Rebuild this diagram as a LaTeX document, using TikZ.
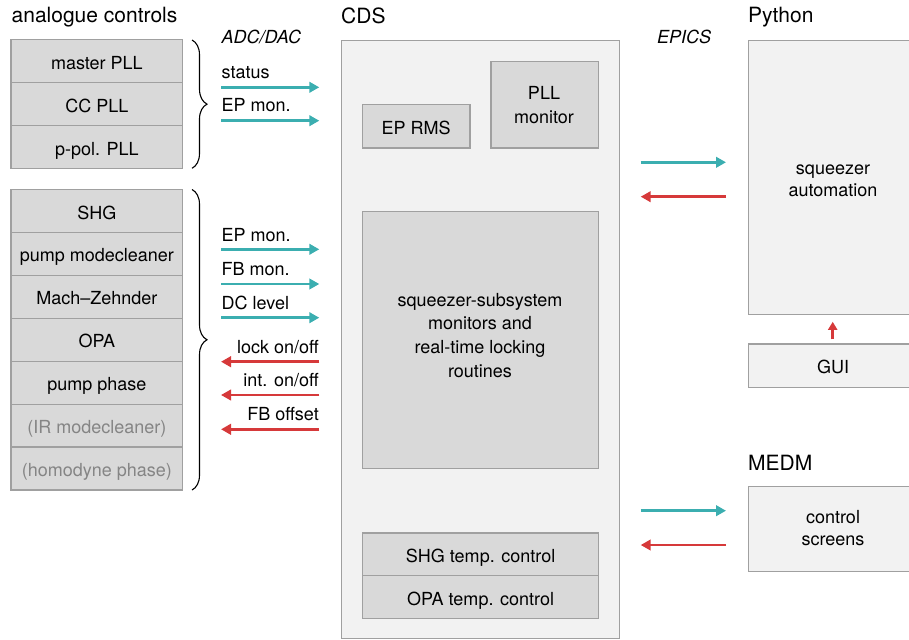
\documentclass[tikz,border=0pt]{standalone}
\usepackage{fontspec}
\setmainfont{TeX Gyre Heros}
\usetikzlibrary{arrows.meta,decorations.pathreplacing}
\definecolor{cellfill}{HTML}{D9D9D9}
\definecolor{outerfill}{HTML}{F2F2F2}
\definecolor{edgegray}{HTML}{A0A0A0}
\definecolor{teal2}{HTML}{3BAEB0}
\definecolor{red2}{HTML}{D6393A}
\definecolor{dimtext}{HTML}{858585}
\tikzset{
  every node/.style={font=\fontsize{18}{24}\selectfont},
  oneline/.style={text height=18pt, text depth=2pt},
  cell/.style={oneline, draw=edgegray, line width=1.3pt, fill=cellfill, inner sep=0pt, minimum width=171.7pt, minimum height=42.9pt, align=center},
  outerbox/.style={draw=edgegray, line width=1.3pt, fill=outerfill, inner sep=0pt, align=center, anchor=north west},
  innerbox/.style={oneline, draw=edgegray, line width=1.3pt, fill=cellfill, inner sep=0pt, align=center, anchor=north west},
  multi/.style={inner sep=0pt, align=center},
  title/.style={anchor=base west, inner sep=0pt, font=\fontsize{21}{24}\selectfont},
  italab/.style={anchor=base west, inner sep=0pt, font=\fontsize{18}{24}\selectfont\itshape},
  lab/.style={anchor=base west, inner sep=0pt},
  rlab/.style={anchor=base east, inner sep=0pt},
  toarr/.style={draw=teal2, line width=2.6pt, -{Triangle[length=10pt,width=10.5pt]}},
  fromarr/.style={draw=red2, line width=2.6pt, -{Triangle[length=10pt,width=10.5pt]}},
  bracestyle/.style={draw=black, line width=1.1pt, decorate, decoration={brace, amplitude=15pt}},
}
\begin{document}
\begin{tikzpicture}[x=1pt,y=-1pt]
\useasboundingbox (0,0) rectangle (909,639);

% titles
\node[title] (tac) at (11.5,22.7) {analogue controls};
\node[title] (tcds) at (341,23.5) {CDS};
\node[title] (tpy) at (748,22.7) {Python};
\node[title] (tmedm) at (748,470) {MEDM};
\node[italab] (tadc) at (221.5,43.3) {ADC/DAC};
\node[italab] (tepics) at (657,43.3) {EPICS};

% analogue controls, group 1
\node[cell] (mpll) at (96.9,61.3) {master PLL};
\node[cell] (ccpll) at (96.9,104.3) {CC PLL};
\node[cell] (ppll) at (96.9,147.2) {p-pol. PLL};

% analogue controls, group 2
\node[cell] (shg) at (96.9,211) {SHG};
\node[cell] (pmc) at (96.9,253.9) {pump modecleaner};
\node[cell] (mz) at (96.9,296.9) {Mach–Zehnder};
\node[cell] (opa) at (96.9,339.8) {OPA};
\node[cell] (pph) at (96.9,382.7) {pump phase};
\node[cell, text=dimtext] (irmc) at (96.9,425.6) {(IR modecleaner)};
\node[cell, text=dimtext] (hph) at (96.9,468.6) {(homodyne phase)};

% braces
\coordinate (b1t) at (192,40);
\coordinate (b1b) at (192,168.3);
\coordinate (b2t) at (192,189.5);
\coordinate (b2b) at (192,490);
\draw[bracestyle] (b1t) -- (b1b);
\draw[bracestyle] (b2t) -- (b2b);

% CDS
\node[outerbox, minimum width=278.5pt, minimum height=598pt] (cds) at (340.5,40) {};
\node[innerbox, minimum width=107.6pt, minimum height=43.3pt] (eprms) at (361.7,104) {EP RMS};
\node[innerbox, minimum width=107.4pt, minimum height=86.3pt] (pllmon) at (490.3,61) {};
\node[multi, font=\fontsize{18}{24}\selectfont] (pllmontext) at (544,105.5) {PLL\\monitor};
\node[innerbox, minimum width=236pt, minimum height=257pt] (sub) at (362,211) {};
\node[multi, font=\fontsize{18}{23.8}\selectfont] (subtext) at (480,335.3) {squeezer-subsystem\\monitors and\\real-time locking\\routines};
\node[innerbox, minimum width=236pt, minimum height=42.8pt] (shgt) at (362,532.3) {SHG temp. control};
\node[innerbox, minimum width=236pt, minimum height=42.8pt] (opat) at (362,575.1) {OPA temp. control};

% Python
\node[outerbox, minimum width=171pt, minimum height=274pt] (py) at (747.5,40) {};
\node[multi, font=\fontsize{18}{22.4}\selectfont] (pytext) at (833,180.8) {squeezer\\automation};
\node[outerbox, minimum width=171pt, minimum height=43.4pt] (gui) at (747.5,343.3) {};
\node[oneline, inner sep=0pt] (guitext) at (833,365) {GUI};
\node[outerbox, minimum width=171pt, minimum height=84.5pt] (medm) at (747.5,486) {};
\node[multi, font=\fontsize{18}{22}\selectfont] (medmtext) at (833,527.9) {control\\screens};

% ADC/DAC arrows, group 1
\coordinate (a1s) at (221,87.3);  \coordinate (a1e) at (319.3,87.3);
\coordinate (a2s) at (221,120.7); \coordinate (a2e) at (319.3,120.7);
\node[lab] (l1) at (221.5,78.3) {status};
\node[lab] (l2) at (221.5,112) {EP mon.};
\draw[toarr] (a1s) -- (a1e);
\draw[toarr] (a2s) -- (a2e);

% ADC/DAC arrows, group 2
\coordinate (a3s) at (221,249.3); \coordinate (a3e) at (319.3,249.3);
\coordinate (a4s) at (221,284);   \coordinate (a4e) at (319.3,284);
\coordinate (a5s) at (221,317.7); \coordinate (a5e) at (319.3,317.7);
\coordinate (a6s) at (319.3,361.7); \coordinate (a6e) at (221,361.7);
\coordinate (a7s) at (319.3,395);   \coordinate (a7e) at (221,395);
\coordinate (a8s) at (319.3,429.3); \coordinate (a8e) at (221,429.3);
\node[lab] (l3) at (221.5,241) {EP mon.};
\node[lab] (l4) at (221.5,275.5) {FB mon.};
\node[lab] (l5) at (221.5,309.3) {DC level};
\node[rlab] (l6) at (319,353) {lock on/off};
\node[rlab] (l7) at (319,386.5) {int. on/off};
\node[rlab] (l8) at (319,420.5) {FB offset};
\draw[toarr] (a3s) -- (a3e);
\draw[toarr] (a4s) -- (a4e);
\draw[toarr] (a5s) -- (a5e);
\draw[fromarr] (a6s) -- (a6e);
\draw[fromarr] (a7s) -- (a7e);
\draw[fromarr] (a8s) -- (a8e);

% EPICS arrows
\coordinate (e1s) at (640.7,162.3); \coordinate (e1e) at (726,162.3);
\coordinate (e2s) at (726,196.7);   \coordinate (e2e) at (640.7,196.7);
\coordinate (e3s) at (640.7,510.7); \coordinate (e3e) at (726,510.7);
\coordinate (e4s) at (726,545);     \coordinate (e4e) at (640.7,545);
\draw[toarr] (e1s) -- (e1e);
\draw[fromarr] (e2s) -- (e2e);
\draw[toarr] (e3s) -- (e3e);
\draw[fromarr] (e4s) -- (e4e);

% GUI -> automation
\draw[draw=red2, line width=2.6pt, -{Triangle[length=8pt,width=9pt]}] ([xshift=85.2pt,yshift=4pt]gui.north west) -- ([xshift=85.2pt,yshift=-6.5pt]py.south west);
\end{tikzpicture}
\end{document}
